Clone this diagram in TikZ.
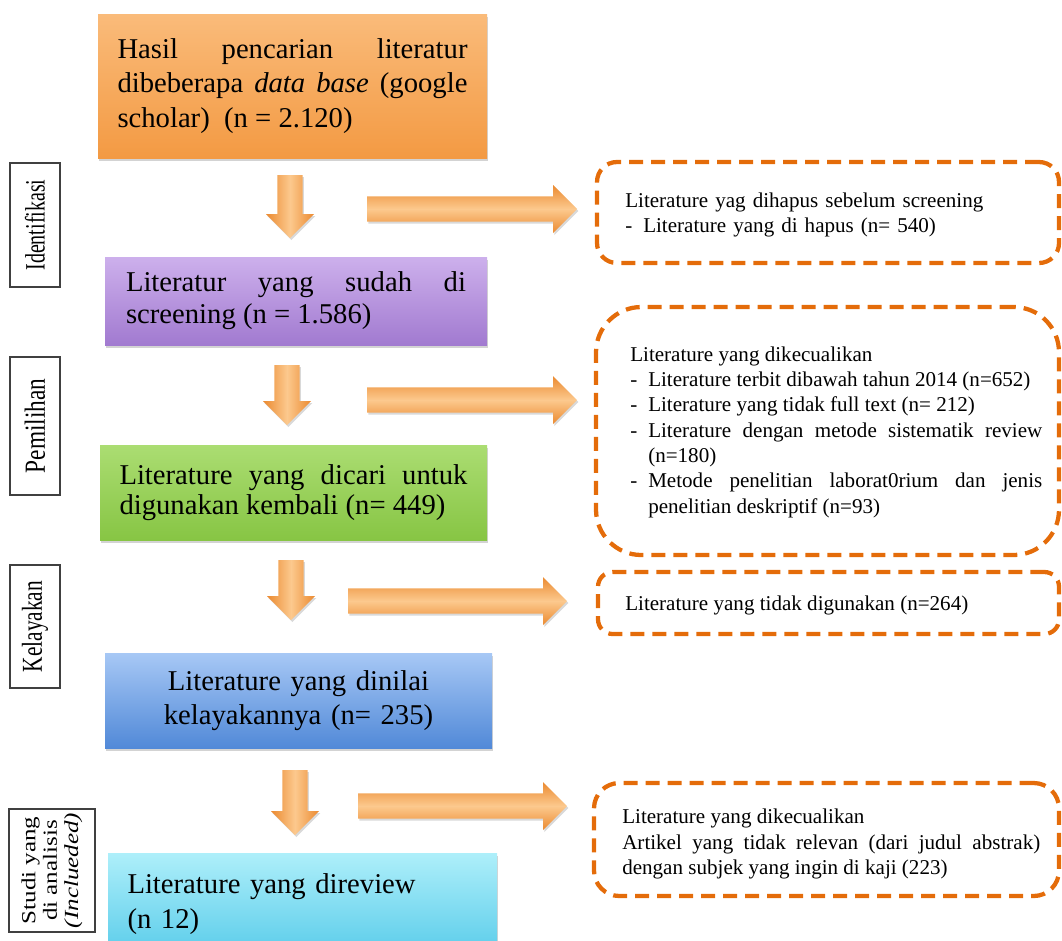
\documentclass[tikz,border=0pt]{standalone}
\usepackage{fontspec}
\setmainfont{Liberation Serif}
\usepackage{xcolor}
\usetikzlibrary{calc}
\usetikzlibrary{shadows}
\hyphenpenalty=10000

\definecolor{orgtop}{HTML}{FABB7A}
\definecolor{orgbot}{HTML}{F39A43}
\definecolor{purtop}{HTML}{CDB0EC}
\definecolor{purbot}{HTML}{A17AD0}
\definecolor{grntop}{HTML}{ABDD72}
\definecolor{grnbot}{HTML}{87C544}
\definecolor{blutop}{HTML}{A7C8F5}
\definecolor{blubot}{HTML}{5189D8}
\definecolor{cyntop}{HTML}{AEEFFA}
\definecolor{cynbot}{HTML}{5ACCEA}
\definecolor{arrlight}{HTML}{FCC98E}
\definecolor{arrdark}{HTML}{EB8A30}
\definecolor{dashorange}{HTML}{E46C0A}

\newcommand{\downblock}[2]{%
  \path[vblock] let \p1=(#1), \p2=(#2) in
    (\x1-9.4pt,\y1) -- (\x1+9.4pt,\y1) -- (\x1+9.4pt,\y2+18pt) -- (\x1+18pt,\y2+18pt)
    -- (\x1,\y2) -- (\x1-18pt,\y2+18pt) -- (\x1-9.4pt,\y2+18pt) -- cycle;}
\newcommand{\rightblock}[2]{%
  \path[hblock] let \p1=(#1), \p2=(#2) in
    (\x1,\y1+9.4pt) -- (\x2-18pt,\y1+9.4pt) -- (\x2-18pt,\y1+18pt) -- (\x2,\y1)
    -- (\x2-18pt,\y1-18pt) -- (\x2-18pt,\y1-9.4pt) -- (\x1,\y1-9.4pt) -- cycle;}
\newcommand{\dashitem}[1]{\par\hangindent=13.5pt\hangafter=1\noindent\makebox[13.5pt][l]{-}#1\par}

\begin{document}
\begin{tikzpicture}[x=0.75pt,y=-0.75pt]
\tikzstyle{stage}=[rectangle, draw=none, inner sep=0pt, font=\fontsize{21.5}{26}\selectfont,
  drop shadow={shadow xshift=1pt, shadow yshift=-2.5pt, opacity=0.35}]
\tikzstyle{phase}=[rectangle, draw=black!75, line width=0.9pt, rotate=90, inner sep=0pt,
  font=\fontsize{15}{16}\selectfont]
\tikzstyle{excl}=[rectangle, draw=dashorange, line width=3.2pt, dash pattern=on 10.5pt off 6pt]
\tikzstyle{excltext}=[inner sep=0pt, anchor=west, font=\fontsize{15.8}{19}\selectfont]
\tikzstyle{vblock}=[left color=arrdark, right color=arrdark, middle color=arrlight,
  drop shadow={shadow xshift=1pt, shadow yshift=-1.5pt, opacity=0.3}]
\tikzstyle{hblock}=[top color=arrdark, bottom color=arrdark, middle color=arrlight,
  drop shadow={shadow xshift=1pt, shadow yshift=-1.5pt, opacity=0.3}]
\useasboundingbox (0,0) rectangle (1062,940);

\node[phase, minimum width=93pt, minimum height=37.5pt] (ident) at (35,225) {\scalebox{1}[1.4]{Identifikasi}};
\node[phase, minimum width=103.5pt, minimum height=37.5pt, font=\fontsize{17.5}{18}\selectfont] (pilih) at (35,426) {\scalebox{1}[1.25]{Pemilihan}};
\node[phase, minimum width=92.25pt, minimum height=37.5pt, font=\fontsize{16}{17}\selectfont] (layak) at (35,626.5) {\scalebox{1}[1.35]{Kelayakan}};
\node[phase, minimum width=92.25pt, minimum height=64.5pt, align=center, font=\fontsize{15}{16}\selectfont] (studi) at (52,870.5)
  {\scalebox{1.25}[1]{Studi yang}\\\scalebox{1.25}[1]{di analisis}\\\scalebox{1.25}[1]{\textit{(Inclueded)}}};

\node[stage, top color=orgtop, bottom color=orgbot, minimum width=291.75pt, minimum height=108pt,
  text width=262.5pt, align=justify] (hasil) at (292.5,86)
  {Hasil pencarian literatur\linebreak dibeberapa \textit{data base} (google\linebreak scholar)~ (n = 2.120)};
\node[stage, top color=purtop, bottom color=purbot, minimum width=286.5pt, minimum height=66pt,
  text width=255pt, align=justify, font=\fontsize{21.5}{24}\selectfont] (screen) at (296,301)
  {Literatur yang sudah di\linebreak screening (n = 1.586)};
\node[stage, top color=grntop, bottom color=grnbot, minimum width=290.25pt, minimum height=71.25pt,
  text width=261pt, align=justify, font=\fontsize{21.5}{22}\selectfont] (dicari) at (293.5,492.5)
  {Literature yang dicari untuk\linebreak digunakan kembali (n= 449)};
\node[stage, top color=blutop, bottom color=blubot, minimum width=290.25pt, minimum height=71.25pt,
  text width=240pt, align=center] (nilai) at (298.5,700.5)
  {Literature yang dinilai\\kelayakannya (n= 235)};
\node[stage, top color=cyntop, bottom color=cynbot, minimum width=291.75pt, minimum height=76.5pt,
  text width=262.5pt, align=left] (review) at (302.5,904)
  {Literature yang direview\\(n 12)};

\coordinate (d1a) at (290,175);
\coordinate (d1b) at (290,238);
\coordinate (d2a) at (287,365);
\coordinate (d2b) at (287,425);
\coordinate (d3a) at (291,560);
\coordinate (d3b) at (291,620);
\coordinate (d4a) at (295,770);
\coordinate (d4b) at (295,835);
\downblock{d1a}{d1b}
\downblock{d2a}{d2b}
\downblock{d3a}{d3b}
\downblock{d4a}{d4b}

\coordinate (r1a) at (367,209);
\coordinate (r1b) at (577,209);
\coordinate (r2a) at (367,400);
\coordinate (r2b) at (577,400);
\coordinate (r3a) at (348,601);
\coordinate (r3b) at (567,601);
\coordinate (r4a) at (358,806);
\coordinate (r4b) at (567,806);
\rightblock{r1a}{r1b}
\rightblock{r2a}{r2b}
\rightblock{r3a}{r3b}
\rightblock{r4a}{r4b}

\node[excl, minimum width=346.5pt, minimum height=75.75pt, rounded corners=15pt] (hapus) at (828,212.5) {};
\node[excl, minimum width=347.25pt, minimum height=186pt, rounded corners=34pt] (kecuali) at (827.5,431) {};
\node[excl, minimum width=345.75pt, minimum height=46.5pt, rounded corners=11pt] (tidakguna) at (828.5,603) {};
\node[excl, minimum width=348.75pt, minimum height=84.75pt, rounded corners=19pt] (relevan) at (826.5,839.5) {};

\node[excltext, text width=315pt, align=left] (hapustxt) at (625,215)
  {Literature yag dihapus sebelum screening\dashitem{Literature yang di hapus (n= 540)}};
\node[excltext, text width=309pt, align=justify] (kecualitxt) at (630,432)
  {Literature yang dikecualikan
   \dashitem{Literature terbit dibawah tahun 2014 (n=652)}
   \dashitem{Literature yang tidak full text (n= 212)}
   \dashitem{Literature dengan metode sistematik review (n=180)}
   \dashitem{Metode penelitian laborat0rium dan jenis penelitian deskriptif (n=93)}};
\node[excltext] (tidakgunatxt) at (625,605) {Literature yang tidak digunakan (n=264)};
\node[excltext, text width=313.5pt, align=justify] (relevantxt) at (622,844)
  {Literature yang dikecualikan\par Artikel yang tidak relevan (dari judul abstrak)\linebreak dengan subjek yang ingin di kaji (223)};
\end{tikzpicture}
\end{document}
